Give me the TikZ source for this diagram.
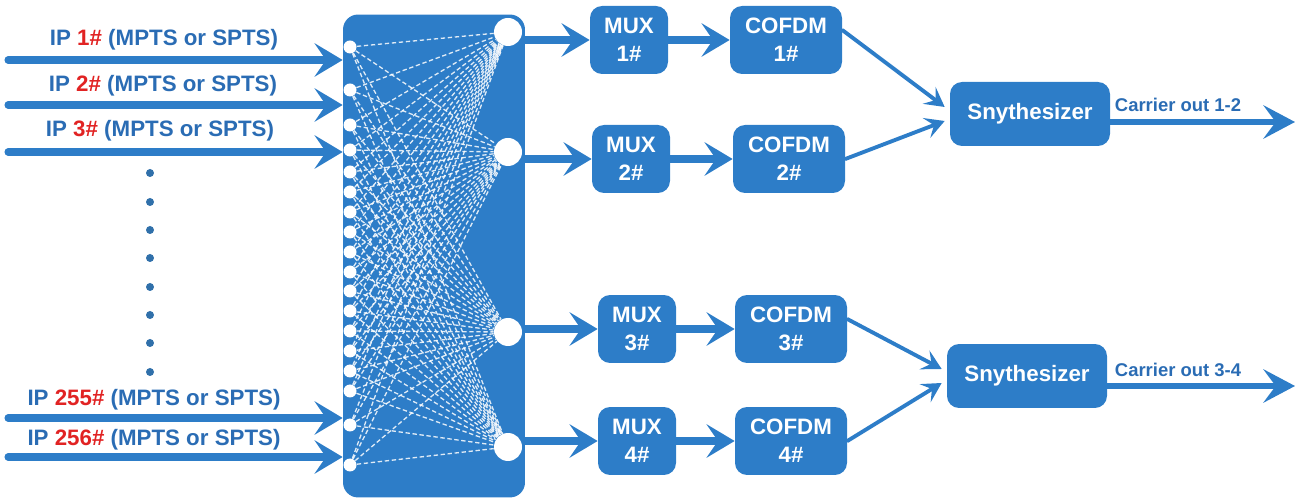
\documentclass[tikz,border=0pt]{standalone}
\usepackage{fontspec}
\setmainfont{Liberation Sans}
\usetikzlibrary{arrows.meta}
\definecolor{boxblue}{RGB}{45,125,200}
\definecolor{labelblue}{RGB}{42,108,180}
\definecolor{dotblue}{RGB}{48,112,170}
\definecolor{ipred}{RGB}{225,35,35}

\begin{document}
\begin{tikzpicture}[
    x=0.02cm, y=-0.02cm,
    block/.style={rectangle, rounded corners=0.24cm, fill=boxblue, text=white, align=center, inner sep=0pt,
        font=\fontsize{12.7}{16}\selectfont\bfseries},
    muxbox/.style={block, minimum width=1.56cm, minimum height=1.36cm},
    cofdmbox/.style={block, minimum width=2.24cm, minimum height=1.36cm},
    synthbox/.style={block, minimum width=3.2cm, minimum height=1.28cm},
    iplabel/.style={text=labelblue, inner sep=0pt, font=\fontsize{12.7}{15}\selectfont\bfseries},
    carrierlabel/.style={text=labelblue, inner sep=0pt, font=\fontsize{10.5}{12}\selectfont\bfseries},
    port/.style={circle, fill=white, minimum size=0.26cm, inner sep=0pt},
    bigport/.style={circle, fill=white, minimum size=0.56cm, inner sep=0pt},
    mesh/.style={draw=white, line width=0.75pt, dash pattern=on 2.5pt off 1.5pt, opacity=0.85},
    fat/.style={draw=boxblue, line width=4pt, line cap=round, -{Stealth[length=16pt, width=19pt, inset=6.5pt]}},
    feed/.style={draw=boxblue, line width=2.2pt, line cap=round, -{Stealth[length=11pt, width=12pt, inset=4.5pt]}},
    carrier/.style={draw=boxblue, line width=3.4pt, -{Stealth[length=18pt, width=19pt, inset=7pt]}}
]
    \useasboundingbox (0,0) rectangle (1301,502);

    % remultiplexer with its ports
    \node[fill=boxblue, rounded corners=0.3cm, minimum width=3.64cm, minimum height=9.66cm, inner sep=0pt] (remux) at (434,256) {};
    \foreach \y [count=\i] in {47,90,125,150,172,192,212,232,252,272,291,311,331,351,371,391,425,465}
        \node[port] (in\i) at (350,\y) {};
    \foreach \y [count=\j] in {32,152,332,447}
        \node[bigport] (out\j) at (508,\y) {};
    \foreach \i in {1,...,18}
        \foreach \j in {1,...,4}
            \draw[mesh] (in\i) -- (out\j);

    % inputs
    \coordinate (src1) at (8,60);
    \coordinate (src2) at (8,105);
    \coordinate (src3) at (8,152);
    \coordinate (src255) at (8,418);
    \coordinate (src256) at (8,457);
    \draw[fat] (src1) -- (remux.west |- src1);
    \draw[fat] (src2) -- (remux.west |- src2);
    \draw[fat] (src3) -- (remux.west |- src3);
    \draw[fat] (src255) -- (remux.west |- src255);
    \draw[fat] (src256) -- (remux.west |- src256);
    \node[iplabel] (ip1) at (164,40) {IP \textcolor{ipred}{1\#} (MPTS or SPTS)};
    \node[iplabel] (ip2) at (163,86) {IP \textcolor{ipred}{2\#} (MPTS or SPTS)};
    \node[iplabel] (ip3) at (160,131) {IP \textcolor{ipred}{3\#} (MPTS or SPTS)};
    \node[iplabel] (ip255) at (154,400) {IP \textcolor{ipred}{255\#} (MPTS or SPTS)};
    \node[iplabel] (ip256) at (154,440) {IP \textcolor{ipred}{256\#} (MPTS or SPTS)};
    \foreach \y in {173,202,230,258,287,315,343,372}
        \fill[dotblue] (150,\y) circle (0.08cm);

    % mux and cofdm chains
    \node[muxbox] (mux1) at (629,40) {MUX\\1\#};
    \node[muxbox] (mux2) at (631,159) {MUX\\2\#};
    \node[muxbox] (mux3) at (637,329) {MUX\\3\#};
    \node[muxbox] (mux4) at (637,441) {MUX\\4\#};
    \node[cofdmbox] (cofdm1) at (786,40) {COFDM\\1\#};
    \node[cofdmbox] (cofdm2) at (789,159) {COFDM\\2\#};
    \node[cofdmbox] (cofdm3) at (791,329) {COFDM\\3\#};
    \node[cofdmbox] (cofdm4) at (791,441) {COFDM\\4\#};
    \draw[fat] (remux.east |- mux1) -- (mux1);
    \draw[fat] (remux.east |- mux2) -- (mux2);
    \draw[fat] (remux.east |- mux3) -- (mux3);
    \draw[fat] (remux.east |- mux4) -- (mux4);
    \draw[fat] (mux1) -- (cofdm1);
    \draw[fat] (mux2) -- (cofdm2);
    \draw[fat] (mux3) -- (cofdm3);
    \draw[fat] (mux4) -- (cofdm4);

    % synthesizers
    \node[synthbox] (synth1) at (1030,114) {Snythesizer};
    \node[synthbox] (synth2) at (1027,376) {Snythesizer};
    \draw[feed] (cofdm1.10) -- ([shift={(-5,-7)}]synth1.west);
    \draw[feed] (cofdm2.east) -- ([shift={(-5,7)}]synth1.west);
    \draw[feed] (cofdm3.10) -- ([shift={(-5,-7)}]synth2.west);
    \draw[feed] (cofdm4.east) -- ([shift={(-5,7)}]synth2.west);

    \coordinate (carrier1) at (1295,122);
    \coordinate (carrier2) at (1295,386);
    \draw[carrier] (synth1.east |- carrier1) -- (carrier1);
    \draw[carrier] (synth2.east |- carrier2) -- (carrier2);
    \node[carrierlabel] (out12) at (1178,105) {Carrier out 1-2};
    \node[carrierlabel] (out34) at (1178,370) {Carrier out 3-4};
\end{tikzpicture}
\end{document}
